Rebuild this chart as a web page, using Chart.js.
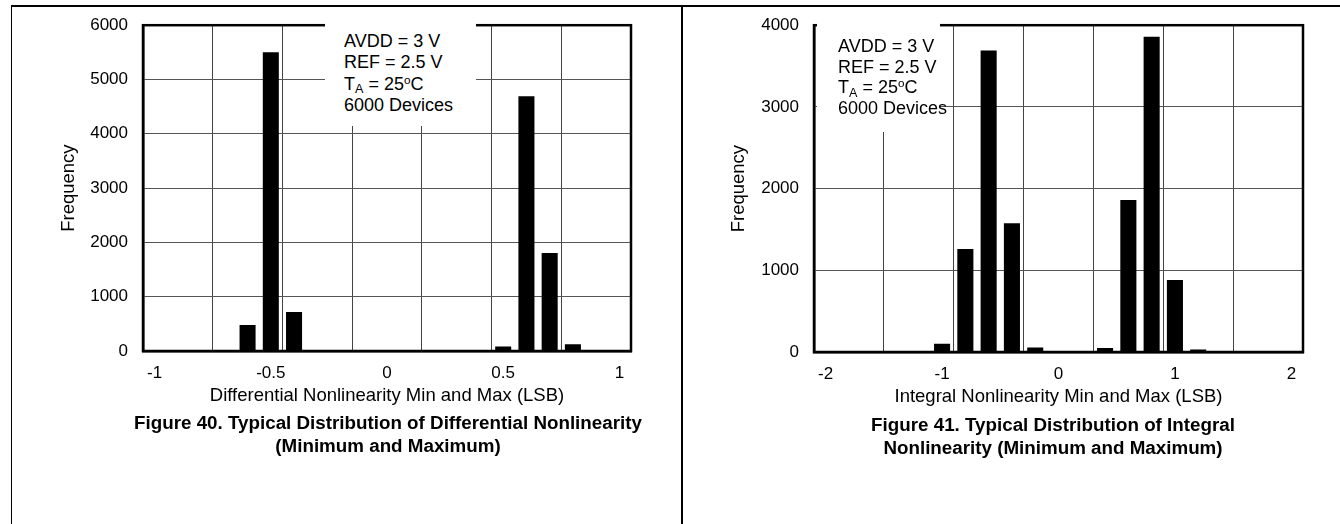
<!DOCTYPE html>
<html><head><meta charset="utf-8">
<script src="https://cdn.jsdelivr.net/npm/chart.js@4.4.1/dist/chart.umd.min.js"></script>
<style>
html,body{margin:0;padding:0;background:#fff;width:1340px;height:524px;overflow:hidden;font-family:"Liberation Sans",Arial,sans-serif;color:#000;}
.line{position:absolute;background:#000;}
.wrap{position:absolute;top:0;}
.box{position:absolute;background:#fff;white-space:nowrap;font-size:18px;overflow:visible;z-index:2;box-sizing:border-box;}
.sub{font-size:0.7em;position:relative;top:0.3em;line-height:0;}
.sup{font-size:0.65em;position:relative;top:-0.5em;line-height:0;}
.cap{position:absolute;font-weight:bold;font-size:18.8px;text-align:center;line-height:23px;white-space:nowrap;}
</style></head><body>
<div class="line" style="left:11px;top:5px;width:1329px;height:1.5px"></div>
<div class="line" style="left:10.5px;top:5px;width:1.5px;height:519px"></div>
<div class="line" style="left:681px;top:5px;width:1.5px;height:519px"></div>

<div class="wrap" style="left:12px"><canvas id="c1" width="669" height="420"></canvas></div>
<div class="wrap" style="left:682px"><canvas id="c2" width="658" height="420"></canvas></div>

<div class="box" style="left:325px;top:22px;width:151px;height:104px;padding:9px 0 0 19px;line-height:21.3px">
<div>AVDD = 3 V</div><div>REF = 2.5 V</div><div>T<span class="sub">A</span> = 25<span class="sup">o</span>C</div><div>6000 Devices</div>
</div>
<div class="box" style="left:817px;top:22px;width:123px;height:110px;padding:14px 0 0 21px;line-height:20.5px">
<div>AVDD = 3 V</div><div>REF = 2.5 V</div><div>T<span class="sub">A</span> = 25<span class="sup">o</span>C</div><div>6000 Devices</div>
</div>

<div class="cap" style="left:88px;width:600px;top:411px">Figure 40. Typical Distribution of Differential Nonlinearity<br>(Minimum and Maximum)</div>
<div class="cap" style="left:753px;width:600px;top:413px">Figure 41. Typical Distribution of Integral<br>Nonlinearity (Minimum and Maximum)</div>

<script>
// ---- data ----
const dnlCategories = ['-1.0','-0.9','-0.8','-0.7','-0.6','-0.5','-0.4','-0.3','-0.2','-0.1','0.0','0.1','0.2','0.3','0.4','0.5','0.6','0.7','0.8','0.9','1.0'];
const dnlFrequency  = [0,0,0,0,480,5500,720,0,0,0,0,0,0,0,0,85,4690,1805,125,0,0];
const dnlTickLabels = ['-1','-0.5','0','0.5','1'];
const dnlYMax = 6000;

const inlCategories = ['-2.0','-1.8','-1.6','-1.4','-1.2','-1.0','-0.8','-0.6','-0.4','-0.2','0.0','0.2','0.4','0.6','0.8','1.0','1.2','1.4','1.6','1.8','2.0'];
const inlFrequency  = [0,0,0,0,0,100,1260,3690,1575,55,0,0,50,1860,3860,880,30,0,0,0,0];
const inlTickLabels = ['-2','-1','0','1','2'];
const inlYMax = 4000;

const frame = {
  id: 'frame',
  afterDatasetsDraw(chart) {
    const {ctx, chartArea: a} = chart;
    ctx.save();
    ctx.strokeStyle = '#000';
    ctx.lineWidth = 2.5;
    ctx.strokeRect(a.left, a.top, a.right - a.left, a.bottom - a.top);
    ctx.restore();
  }
};

function makeChart(id, categories, values, tickLabels, yMax, xTitle, pad, yWidth) {
  const font = {family: '"Liberation Sans", Arial, sans-serif', size: 17};
  const tfont = {family: '"Liberation Sans", Arial, sans-serif', size: 18.5};
  return new Chart(document.getElementById(id), {
    type: 'bar',
    data: {
      labels: categories,
      datasets: [{data: values, backgroundColor: '#000', borderWidth: 0, categoryPercentage: 1, barPercentage: 0.69}]
    },
    options: {
      responsive: false,
      animation: false,
      layout: {padding: pad},
      plugins: {legend: {display: false}, tooltip: {enabled: false}},
      scales: {
        x: {
          type: 'category',
          offset: true,
          grid: {
            offset: true,
            drawTicks: false,
            lineWidth: 1,
            color: (c) => (c.index % 3 === 0 && c.index > 0 && c.index < categories.length - 1) ? '#444' : 'rgba(0,0,0,0)'
          },
          border: {display: true, color: '#000', width: 2.5},
          ticks: {
            autoSkip: false, maxRotation: 0, minRotation: 0, padding: 12, color: '#000', font: font,
            callback: (v, i) => (i % 5 === 0 ? tickLabels[i / 5] : '')
          },
          title: {display: true, text: xTitle, color: '#000', font: tfont, padding: {top: 4, bottom: 4}},
          afterFit: (s) => { s.height = 60; }
        },
        y: {
          min: 0, max: yMax,
          grid: {drawTicks: false, color: '#555', lineWidth: 1},
          border: {display: true, color: '#000', width: 2.5},
          ticks: {stepSize: 1000, padding: 15, color: '#000', font: font, callback: (v) => String(v)},
          title: {display: true, text: 'Frequency', color: '#000', font: tfont, padding: {top: 4, bottom: 4}},
          afterFit: (s) => { s.width = yWidth; }
        }
      }
    },
    plugins: [frame]
  });
}

makeChart('c1', dnlCategories, dnlFrequency, dnlTickLabels, dnlYMax,
  'Differential Nonlinearity Min and Max (LSB)', {left: 42, right: 50, top: 20, bottom: 9}, 89);
makeChart('c2', inlCategories, inlFrequency, inlTickLabels, inlYMax,
  'Integral Nonlinearity Min and Max (LSB)', {left: 42, right: 37, top: 20, bottom: 8}, 90);
</script>
</body></html>
